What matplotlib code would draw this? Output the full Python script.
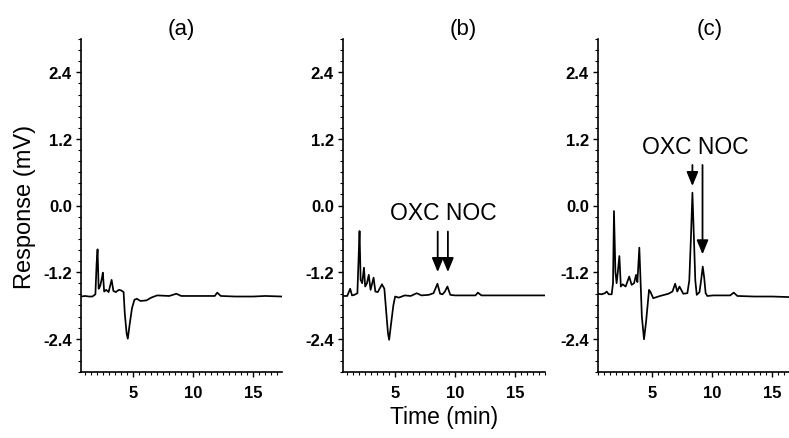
import matplotlib

matplotlib.use("Agg")

import matplotlib.pyplot as plt
from matplotlib.ticker import MultipleLocator, FormatStrFormatter

plt.rcParams["font.family"] = ["Liberation Sans", "DejaVu Sans"]

# chromatogram (a): blank
time_a = [0.65, 1.0, 1.3, 1.6, 1.85, 1.95, 2.03, 2.12, 2.25, 2.4, 2.47, 2.58, 2.75, 2.95,
          3.2, 3.35, 3.55, 3.8, 4.0, 4.2, 4.3, 4.45, 4.55, 4.7, 4.9, 5.1, 5.3, 5.6, 6.1,
          6.5, 7.0, 8.0, 8.6, 9.0, 10.0, 11.0, 11.8, 12.0, 12.3, 13.5, 15.0, 16.0, 17.4]
resp_a = [-1.64, -1.63, -1.64, -1.64, -1.60, -1.05, -0.79, -1.50, -1.45, -1.30, -1.21, -1.55,
          -1.52, -1.56, -1.34, -1.54, -1.56, -1.52, -1.53, -1.56, -1.95, -2.30, -2.40, -2.15,
          -1.85, -1.70, -1.68, -1.72, -1.71, -1.66, -1.62, -1.63, -1.59, -1.63, -1.63, -1.63,
          -1.63, -1.57, -1.63, -1.64, -1.64, -1.63, -1.64]

# chromatogram (b): spiked at low level
time_b = [0.65, 1.0, 1.25, 1.4, 1.6, 1.85, 1.95, 2.03, 2.12, 2.25, 2.4, 2.5, 2.65, 2.8,
          2.95, 3.2, 3.35, 3.55, 3.9, 4.1, 4.25, 4.4, 4.5, 4.65, 4.85, 5.0, 5.3, 5.8,
          6.3, 6.8, 7.2, 7.8, 8.2, 8.53, 8.75, 8.95, 9.15, 9.36, 9.6, 10.0, 11.0, 11.7,
          11.9, 12.2, 13.0, 14.5, 16.0, 17.5]
resp_b = [-1.63, -1.63, -1.50, -1.62, -1.61, -1.58, -0.95, -0.46, -1.34, -1.40, -1.12, -1.46,
          -1.40, -1.25, -1.52, -1.30, -1.55, -1.56, -1.42, -1.50, -1.90, -2.30, -2.42, -2.15,
          -1.80, -1.64, -1.66, -1.62, -1.63, -1.58, -1.62, -1.61, -1.58, -1.41, -1.59, -1.60,
          -1.55, -1.46, -1.61, -1.62, -1.62, -1.62, -1.57, -1.62, -1.62, -1.62, -1.62, -1.62]

# chromatogram (c): spiked at higher level
time_c = [0.5, 0.8, 1.08, 1.22, 1.4, 1.64, 1.75, 1.83, 1.95, 2.05, 2.15, 2.28, 2.4, 2.55,
          2.8, 3.1, 3.3, 3.5, 3.67, 3.78, 3.94, 4.05, 4.15, 4.33, 4.5, 4.65, 4.75, 4.85,
          5.1, 5.67, 6.36, 6.7, 6.92, 7.1, 7.28, 7.6, 7.94, 8.1, 8.25, 8.36, 8.48, 8.6,
          8.72, 8.95, 9.1, 9.22, 9.34, 9.46, 9.6, 10.1, 11.5, 11.8, 12.1, 13.5, 15.0, 16.4]
resp_c = [-1.59, -1.60, -1.58, -1.55, -1.60, -1.60, -1.40, -0.10, -1.20, -1.40, -1.20, -0.91,
          -1.46, -1.42, -1.46, -1.28, -1.43, -1.40, -1.25, -1.38, -0.76, -1.40, -2.00, -2.41,
          -2.10, -1.75, -1.52, -1.55, -1.67, -1.63, -1.59, -1.55, -1.41, -1.55, -1.46, -1.59,
          -1.58, -1.35, -0.50, 0.23, -0.55, -1.35, -1.61, -1.56, -1.32, -1.10, -1.30, -1.58,
          -1.63, -1.62, -1.62, -1.57, -1.63, -1.64, -1.64, -1.65]

panels = [
    ("(a)", time_a, resp_a, (0.65, 17.4), 0.50),
    ("(b)", time_b, resp_b, (0.65, 17.5), 0.594),
    ("(c)", time_c, resp_c, (0.5, 16.4), 0.586),
]

# peak labels and arrows: (label x, label y, [(x, y_top, y_tip), ...])
marks_b = (9.0, -0.13, [(8.55, -0.47, -1.20), (9.4, -0.47, -1.20)])
marks_c = (8.6, 1.07, [(8.36, 0.73, 0.35), (9.2, 0.73, -0.88)])

W, H = 789, 439
fig = plt.figure(figsize=(W / 100, H / 100), dpi=100)
boxes = [(81, 282), (343, 545), (598, 789)]
top, bottom = 40, 373

axes = []
for (title, t, r, xlim, tx), (x0, x1) in zip(panels, boxes):
    ax = fig.add_axes([x0 / W, 1 - bottom / H, (x1 - x0) / W, (bottom - top) / H])
    ax.plot(t, r, color="black", lw=1.25)
    ax.set_xlim(*xlim)
    ax.set_ylim(-3.0, 3.0)
    for s in ("top", "right"):
        ax.spines[s].set_visible(False)
    for s in ("left", "bottom"):
        ax.spines[s].set_linewidth(1.2)
    ax.set_yticks([-2.4, -1.2, 0.0, 1.2, 2.4])
    ax.yaxis.set_major_formatter(FormatStrFormatter("%.1f"))
    ax.yaxis.set_minor_locator(MultipleLocator(0.2))
    ax.set_xticks([5, 10, 15])
    ax.xaxis.set_minor_locator(MultipleLocator(0.5))
    ax.tick_params(which="major", direction="out", length=3.5, width=1.0, labelsize=12)
    ax.tick_params(which="minor", direction="out", length=2, width=0.8)
    ax.tick_params(axis="x", which="major", pad=6)
    ax.tick_params(axis="y", which="major", pad=3)
    for lab in ax.get_xticklabels() + ax.get_yticklabels():
        lab.set_fontweight("bold")
    ax.text(tx, 1.033, title, transform=ax.transAxes, ha="center", va="center", fontsize=16)
    axes.append(ax)

for ax, (lx, ly, arrows) in zip(axes[1:], [marks_b, marks_c]):
    ax.text(lx, ly, "OXC NOC", ha="center", va="center", fontsize=16.5)
    for x, y0, y1 in arrows:
        ax.annotate("", xy=(x, y1), xytext=(x, y0),
                    arrowprops=dict(arrowstyle="-|>,head_length=0.85,head_width=0.35",
                                    color="black", lw=1.3, shrinkA=0, shrinkB=0,
                                    mutation_scale=10))

fig.text(25 / W, 1 - 207 / H, "Response (mV)", rotation=90, ha="center", va="center", fontsize=17)
fig.text(444 / W, 1 - 418 / H, "Time (min)", ha="center", va="center", fontsize=16.5)

fig.savefig("out.png", dpi=100)
